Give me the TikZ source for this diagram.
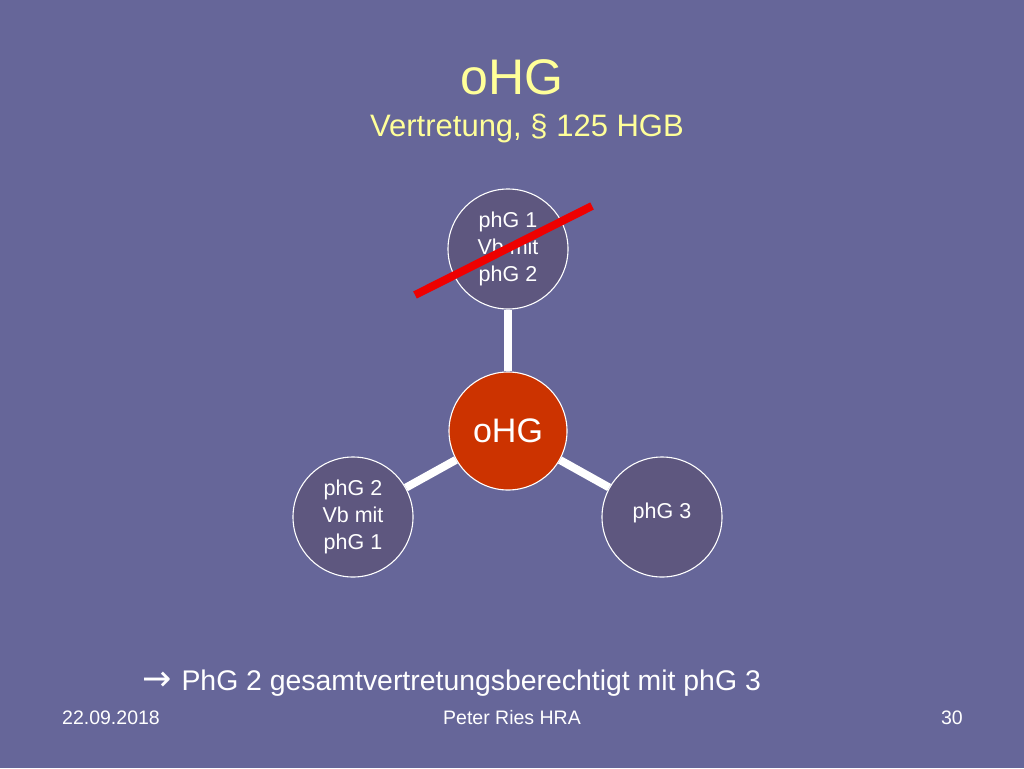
\documentclass[tikz,border=0pt]{standalone}
\usepackage{fontspec}
\setmainfont{Liberation Sans}
\newfontfamily\symfont{DejaVu Sans}
\definecolor{slidebg}{RGB}{102,102,153}
\definecolor{circfill}{RGB}{94,87,127}
\definecolor{centerfill}{RGB}{204,51,0}
\definecolor{titleyellow}{RGB}{255,255,153}
\definecolor{strike}{RGB}{238,0,0}
\begin{document}
\begin{tikzpicture}[x=1pt,y=-1pt,
  member/.style={circle,draw=white,line width=1.1pt,fill=circfill,minimum size=120pt,inner sep=0pt,text=white,align=center,font=\fontsize{21.5}{27}\selectfont},
  hub/.style={circle,draw=white,line width=1.1pt,fill=centerfill,minimum size=118pt,inner sep=0pt,text=white,font=\fontsize{34}{36}\selectfont},
  link/.style={draw=white,line width=8pt},
  foot/.style={text=white,font=\fontsize{19.5}{21}\selectfont,inner sep=0pt}]
\useasboundingbox (0,0) rectangle (1024,768);
\fill[slidebg] (0,0) rectangle (1024,768);
% titles
\node[text=titleyellow,font=\fontsize{50}{52}\selectfont,inner sep=0pt] (title) at (512,77) {oHG};
\node[text=titleyellow,font=\fontsize{31}{33}\selectfont,inner sep=0pt] (subtitle) at (527,128) {Vertretung, § 125 HGB};
% diagram
\node[hub] (c) at (508,431) {oHG};
\node[member] (t) at (508,249) {phG 1\\Vb mit\\phG 2};
\node[member] (l) at (353,517) {phG 2\\Vb mit\\phG 1};
\node[member] (r) at (662,517) {\raisebox{13pt}{phG 3}};
\draw[link] (c) -- (t);
\draw[link] (c) -- (l);
\draw[link] (c) -- (r);
% strike-through
\coordinate (s1) at (415,295);
\coordinate (s2) at (592,206);
\draw[strike,line width=8pt] (s1) -- (s2);
% conclusion
\node[text=white,font=\fontsize{28.4}{30}\selectfont,inner sep=0pt,anchor=west] (concl) at (142,683) {{\symfont\fontsize{35}{36}\selectfont →}\hspace{10pt}PhG 2 gesamtvertretungsberechtigt mit phG 3};
% footer
\node[foot,anchor=west] (date) at (62,718) {22.09.2018};
\node[foot] (author) at (512,718) {Peter Ries HRA};
\node[foot,anchor=east] (page) at (963,718) {30};
\end{tikzpicture}
\end{document}
